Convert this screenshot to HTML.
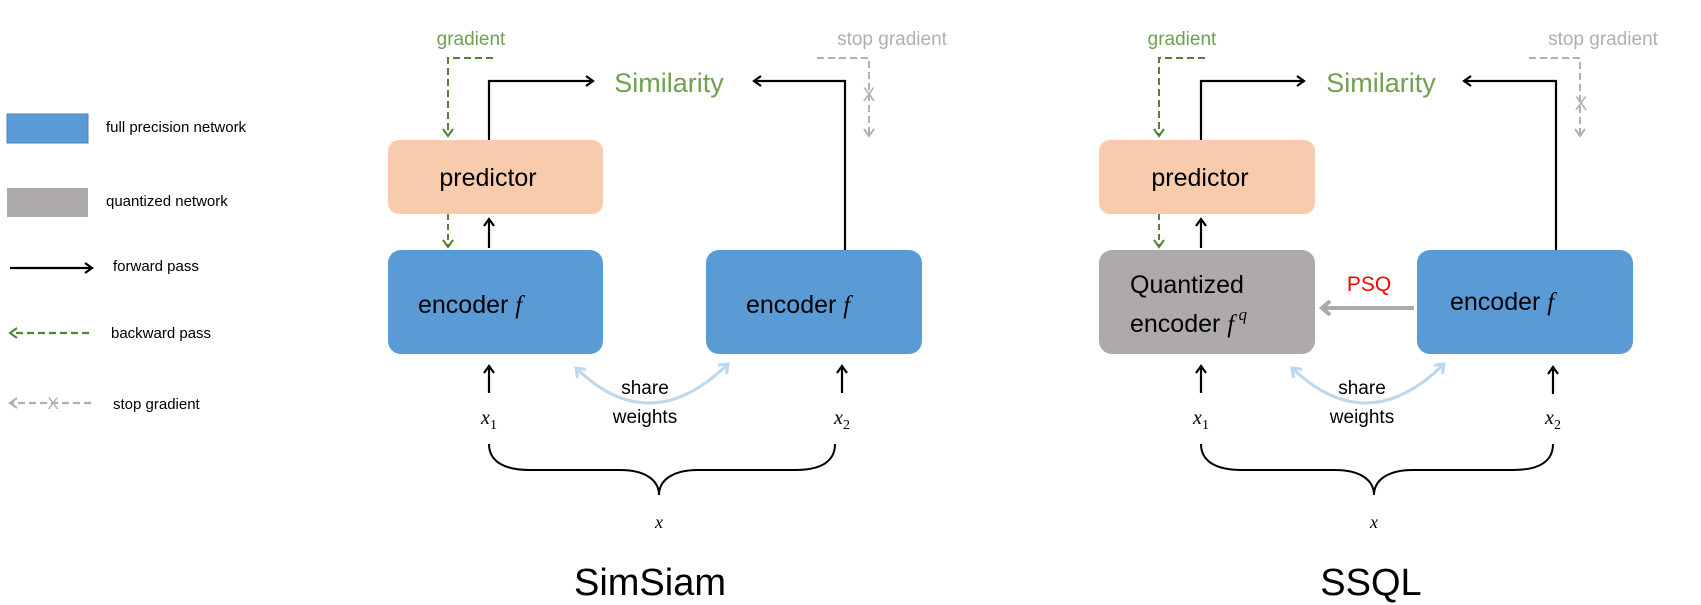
<!DOCTYPE html>
<html><head><meta charset="utf-8"><style>
html,body{margin:0;padding:0;background:#fff;}
svg{display:block;}
text{font-family:"Liberation Sans",Arial,sans-serif;}
.m{font-family:"Liberation Serif",serif;font-style:italic;}
</style></head><body>
<svg width="1701" height="605" viewBox="0 0 1701 605" xmlns="http://www.w3.org/2000/svg">
<defs>
<marker id="ab" markerWidth="12" markerHeight="12" refX="9" refY="6" orient="auto" markerUnits="userSpaceOnUse"><path d="M2,1 L9,6 L2,11" fill="none" stroke="#000" stroke-width="2.2"/></marker>
<marker id="ag" markerWidth="12" markerHeight="12" refX="9" refY="6" orient="auto" markerUnits="userSpaceOnUse"><path d="M2,1 L9,6 L2,11" fill="none" stroke="#548235" stroke-width="2"/></marker>
<marker id="ar" markerWidth="12" markerHeight="12" refX="9" refY="6" orient="auto" markerUnits="userSpaceOnUse"><path d="M2,1 L9,6 L2,11" fill="none" stroke="#b0b0b0" stroke-width="2"/></marker>
<marker id="al" markerWidth="14" markerHeight="14" refX="10" refY="7" orient="auto-start-reverse" markerUnits="userSpaceOnUse"><path d="M2,1 L10,7 L2,13" fill="none" stroke="#bdd7ee" stroke-width="3"/></marker>
<marker id="aq" markerWidth="14" markerHeight="16" refX="10" refY="8" orient="auto" markerUnits="userSpaceOnUse"><path d="M2,1 L10,8 L2,15" fill="none" stroke="#aeaaaa" stroke-width="4"/></marker>
</defs>

<rect x="7" y="114" width="81" height="29" fill="#5b9bd5" stroke="#4a86c0" stroke-width="1"/>
<rect x="7" y="188" width="81" height="29" fill="#aeaaaa"/>
<text x="106" y="132" font-size="15">full precision network</text>
<text x="106" y="206" font-size="15">quantized network</text>
<line x1="10" y1="268" x2="92" y2="268" stroke="#000" stroke-width="2.2" marker-end="url(#ab)"/>
<text x="113" y="271" font-size="15">forward pass</text>
<line x1="89" y1="333" x2="10" y2="333" stroke="#548235" stroke-width="2.2" stroke-dasharray="7,4" marker-end="url(#ag)"/>
<text x="111" y="338" font-size="15">backward pass</text>
<line x1="91" y1="403" x2="10" y2="403" stroke="#b0b0b0" stroke-width="2.2" stroke-dasharray="7,4" marker-end="url(#ar)"/>
<text x="53" y="409" font-size="17" fill="#b0b0b0" text-anchor="middle">X</text>
<text x="113" y="409" font-size="15">stop gradient</text>

<text x="471" y="45" font-size="19" fill="#70a050" text-anchor="middle">gradient</text>
<polyline points="493,58 448,58 448,136" fill="none" stroke="#548235" stroke-width="2" stroke-dasharray="7,4" marker-end="url(#ag)"/>
<text x="669" y="92" font-size="27" fill="#70a050" text-anchor="middle">Similarity</text>
<polyline points="489,140 489,81 593,81" fill="none" stroke="#000" stroke-width="2.2" marker-end="url(#ab)"/>
<rect x="388" y="140" width="215" height="74" rx="11" fill="#f8cbad"/>
<text x="488" y="186" font-size="25" text-anchor="middle">predictor</text>
<line x1="448" y1="214" x2="448" y2="247" stroke="#548235" stroke-width="2" stroke-dasharray="6,4" marker-end="url(#ag)"/>
<line x1="489" y1="248" x2="489" y2="219" stroke="#000" stroke-width="2.2" marker-end="url(#ab)"/>
<rect x="388" y="250" width="215" height="104" rx="13" fill="#5b9bd5"/>
<text x="418" y="313" font-size="25">encoder <tspan class="m">f</tspan></text>
<rect x="706" y="250" width="216" height="104" rx="13" fill="#5b9bd5"/>
<text x="746" y="313" font-size="25">encoder <tspan class="m">f</tspan></text>
<polyline points="845,250 845,81 754,81" fill="none" stroke="#000" stroke-width="2.2" marker-end="url(#ab)"/>
<text x="892" y="45" font-size="19" fill="#b0b0b0" text-anchor="middle">stop gradient</text>
<polyline points="817,58 869,58 869,136" fill="none" stroke="#b0b0b0" stroke-width="2" stroke-dasharray="7,4" marker-end="url(#ar)"/>
<text x="869" y="101" font-size="19" fill="#b0b0b0" text-anchor="middle">X</text>
<line x1="489" y1="393" x2="489" y2="366" stroke="#000" stroke-width="2.2" marker-end="url(#ab)"/>
<line x1="842" y1="393" x2="842" y2="366" stroke="#000" stroke-width="2.2" marker-end="url(#ab)"/>
<text x="489" y="424" font-size="20" class="m" text-anchor="middle">x<tspan font-size="14" font-style="normal" dy="5">1</tspan></text>
<text x="842" y="424" font-size="20" class="m" text-anchor="middle">x<tspan font-size="14" font-style="normal" dy="5">2</tspan></text>
<path d="M576,368 Q650,440 728,364" fill="none" stroke="#bdd7ee" stroke-width="3" marker-start="url(#al)" marker-end="url(#al)"/>
<text x="645" y="394" font-size="19" text-anchor="middle">share</text>
<text x="645" y="423" font-size="19" text-anchor="middle">weights</text>
<path d="M489,444 C489,462 505,470 530,470 L620,470 C645,470 659,480 659,495 C659,480 673,470 698,470 L795,470 C820,470 835,462 835,444" fill="none" stroke="#000" stroke-width="2"/>
<text x="659" y="528" font-size="18" class="m" text-anchor="middle">x</text>
<text x="650" y="595" font-size="38" text-anchor="middle">SimSiam</text>

<text x="1182" y="45" font-size="19" fill="#70a050" text-anchor="middle">gradient</text>
<polyline points="1205,58 1159,58 1159,136" fill="none" stroke="#548235" stroke-width="2" stroke-dasharray="7,4" marker-end="url(#ag)"/>
<text x="1381" y="92" font-size="27" fill="#70a050" text-anchor="middle">Similarity</text>
<polyline points="1201,140 1201,81 1304,81" fill="none" stroke="#000" stroke-width="2.2" marker-end="url(#ab)"/>
<rect x="1099" y="140" width="216" height="74" rx="11" fill="#f8cbad"/>
<text x="1200" y="186" font-size="25" text-anchor="middle">predictor</text>
<line x1="1159" y1="214" x2="1159" y2="247" stroke="#548235" stroke-width="2" stroke-dasharray="6,4" marker-end="url(#ag)"/>
<line x1="1201" y1="248" x2="1201" y2="219" stroke="#000" stroke-width="2.2" marker-end="url(#ab)"/>
<rect x="1099" y="250" width="216" height="104" rx="13" fill="#aeaaaa"/>
<text x="1130" y="293" font-size="25">Quantized</text>
<text x="1130" y="332" font-size="25">encoder <tspan class="m">f</tspan><tspan class="m" font-size="17" dy="-12"> q</tspan></text>
<text x="1369" y="291" font-size="21" fill="#ff0000" text-anchor="middle">PSQ</text>
<line x1="1414" y1="308" x2="1322" y2="308" stroke="#aeaaaa" stroke-width="4" marker-end="url(#aq)"/>
<rect x="1417" y="250" width="216" height="104" rx="13" fill="#5b9bd5"/>
<text x="1450" y="310" font-size="25">encoder <tspan class="m">f</tspan></text>
<polyline points="1556,250 1556,81 1464,81" fill="none" stroke="#000" stroke-width="2.2" marker-end="url(#ab)"/>
<text x="1603" y="45" font-size="19" fill="#b0b0b0" text-anchor="middle">stop gradient</text>
<polyline points="1529,58 1580,58 1580,136" fill="none" stroke="#b0b0b0" stroke-width="2" stroke-dasharray="7,4" marker-end="url(#ar)"/>
<text x="1581" y="110" font-size="19" fill="#b0b0b0" text-anchor="middle">X</text>
<line x1="1201" y1="393" x2="1201" y2="366" stroke="#000" stroke-width="2.2" marker-end="url(#ab)"/>
<line x1="1553" y1="394" x2="1553" y2="367" stroke="#000" stroke-width="2.2" marker-end="url(#ab)"/>
<text x="1201" y="424" font-size="20" class="m" text-anchor="middle">x<tspan font-size="14" font-style="normal" dy="5">1</tspan></text>
<text x="1553" y="424" font-size="20" class="m" text-anchor="middle">x<tspan font-size="14" font-style="normal" dy="5">2</tspan></text>
<path d="M1292,368 Q1367,440 1444,364" fill="none" stroke="#bdd7ee" stroke-width="3" marker-start="url(#al)" marker-end="url(#al)"/>
<text x="1362" y="394" font-size="19" text-anchor="middle">share</text>
<text x="1362" y="423" font-size="19" text-anchor="middle">weights</text>
<path d="M1201,444 C1201,462 1217,470 1242,470 L1335,470 C1360,470 1374,480 1374,495 C1374,480 1388,470 1413,470 L1513,470 C1538,470 1553,462 1553,444" fill="none" stroke="#000" stroke-width="2"/>
<text x="1374" y="528" font-size="18" class="m" text-anchor="middle">x</text>
<text x="1371" y="595" font-size="38" text-anchor="middle">SSQL</text>
</svg>
</body></html>
